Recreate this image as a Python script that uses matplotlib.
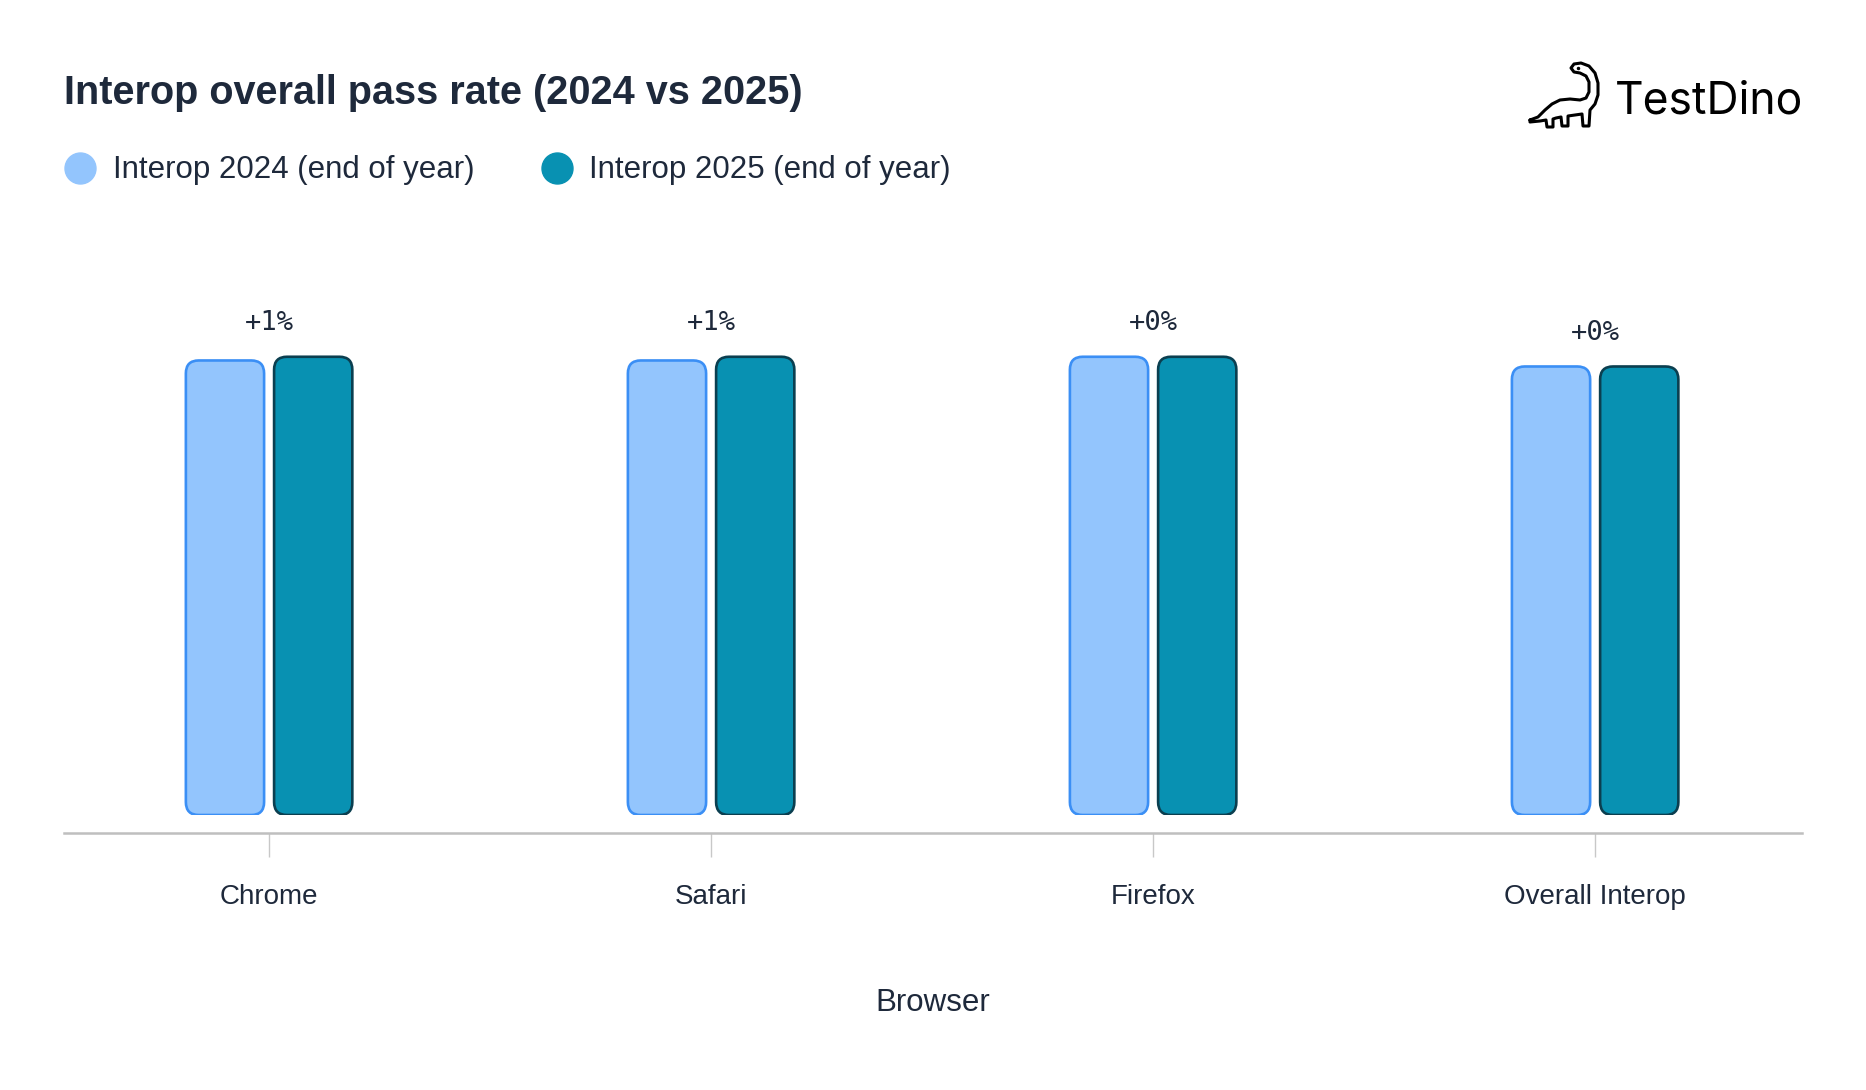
import numpy as np
import matplotlib
matplotlib.use("Agg")
import matplotlib.pyplot as plt
from matplotlib.patches import FancyBboxPatch
from matplotlib.lines import Line2D

# data
browsers = ["Chrome", "Safari", "Firefox", "Overall Interop"]
rate_2024 = [98.2, 98.2, 99.0, 96.9]
rate_2025 = [99.0, 99.0, 99.0, 96.9]
series_names = ["Interop 2024 (end of year)", "Interop 2025 (end of year)"]

W, H = 1866, 1090
TXT = "#1e293b"
LIGHT, LIGHT_EDGE = "#93c5fd", "#3b8ff5"
DARK, DARK_EDGE = "#0891b2", "#0b3f50"

plt.rcParams['font.family'] = ['Liberation Sans', 'DejaVu Sans']

fig = plt.figure(figsize=(W / 100, H / 100), dpi=100)
fig.patch.set_facecolor("white")


def fx(px):
    return px / W


def fy(py):
    return 1 - py / H


# axes placed in pixel terms of the reference
ax = fig.add_axes([fx(64), fy(815), fx(1802) - fx(64), (815 - 329) / H])
ax.set_xlim(-0.464, 3.468)
ax.set_ylim(0, 105)

bar_w = 0.177
off = 0.0998
# corner rounding of ~13px both ways
rx = 0.029
aspect = 2.8 / rx

x = np.arange(len(browsers))
for i in range(len(browsers)):
    for val, dx, fc, ec in [(rate_2024[i], -off, LIGHT, LIGHT_EDGE),
                            (rate_2025[i], off, DARK, DARK_EDGE)]:
        p = FancyBboxPatch((x[i] + dx - bar_w / 2, 0), bar_w, val,
                           boxstyle=f"round,pad=0,rounding_size={rx}",
                           mutation_aspect=aspect,
                           facecolor=fc, edgecolor=ec, linewidth=1.9)
        ax.add_patch(p)
    diff = rate_2025[i] - rate_2024[i]
    ax.annotate(f"+{round(diff):.0f}%", (x[i], max(rate_2024[i], rate_2025[i])),
                xytext=(0, 24.2), textcoords="offset points",
                ha="center", va="center", fontsize=19.5,
                family="DejaVu Sans Mono", color=TXT)

for s in ["left", "right", "top"]:
    ax.spines[s].set_visible(False)
ax.spines["bottom"].set_position(("outward", 13))
ax.spines["bottom"].set_color("#bfbfbf")
ax.spines["bottom"].set_linewidth(1.8)
ax.set_yticks([])
ax.set_xticks(x)
ax.set_xticklabels(browsers, fontsize=20, color=TXT)
ax.tick_params(axis="x", length=17, width=1, color="#c8c8c8", pad=20)
ax.set_xlabel("Browser", fontsize=22.5, color=TXT, labelpad=56)

# title and legend
fig.text(fx(64), fy(92.5), "Interop overall pass rate (2024 vs 2025)",
         fontsize=28.5, fontweight="bold", color=TXT, va="center", ha="left")

for cx, tx, col, name in [(80, 113, LIGHT, series_names[0]),
                          (557, 589, DARK, series_names[1])]:
    fig.add_artist(Line2D([fx(cx)], [fy(168)], marker="o", markersize=22.3,
                          markerfacecolor=col, markeredgecolor=col,
                          linestyle="none", transform=fig.transFigure))
    fig.text(fx(tx), fy(170.5), name, fontsize=22.5, color=TXT,
             va="center", ha="left")

# logo
fig.text(fx(1615), fy(113), "TestDino", fontsize=32, family=["Inter", "DejaVu Sans"],
         color="black", va="baseline", ha="left")

dino = [(1530, 120), (1538, 117), (1545, 110), (1552, 104), (1560, 100), (1570, 99),
        (1580, 100), (1586, 98), (1589, 92), (1589, 82), (1586, 76), (1580, 73),
        (1574, 72), (1571, 68), (1574, 64), (1581, 63), (1589, 66), (1595, 73),
        (1598, 83), (1598, 95), (1595, 104), (1590, 110),
        (1589, 126), (1583, 126), (1582, 114),
        (1575, 115), (1568, 116),
        (1568, 126), (1562, 126), (1561, 117),
        (1556, 118), (1553, 119),
        (1553, 127), (1547, 127), (1546, 120),
        (1540, 121), (1530, 122), (1530, 120)]
dx_, dy_ = zip(*dino)
fig.add_artist(Line2D([fx(v) for v in dx_], [fy(v) for v in dy_], color="black",
                      linewidth=2.2, solid_joinstyle="round", solid_capstyle="round",
                      transform=fig.transFigure))
fig.add_artist(Line2D([fx(1578)], [fy(68)], marker="o", markersize=1.5,
                      color="black", transform=fig.transFigure))

fig.savefig("out.png", dpi=100, facecolor="white")
